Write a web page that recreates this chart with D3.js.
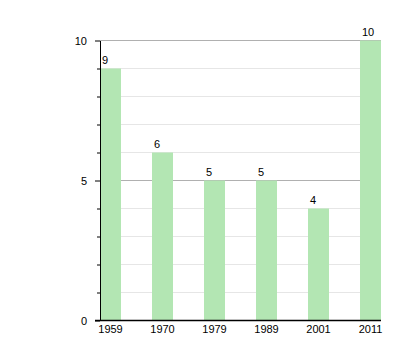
<!DOCTYPE html>
<html>
<head>
<meta charset="utf-8">
<script src="https://cdn.jsdelivr.net/npm/d3@7"></script>
<style>
body{margin:0;background:#fff;}
text{font-family:"Liberation Sans",Arial,sans-serif;font-size:11px;fill:#000;}
</style>
</head>
<body>
<svg id="c" width="420" height="360"></svg>
<script>
const years = ["1959","1970","1979","1989","2001","2011"];
const values = [9,6,5,5,4,10];
const majorTicks = [0,5,10];
const minorTicks = [1,2,3,4,6,7,8,9];

const svg = d3.select("#c");
const x = d3.scaleBand().domain(years).range([100,381]).paddingInner(31/52).paddingOuter(0);
const y = d3.scaleLinear().domain([0,10]).range([320.5,40.5]);

// minor gridlines
svg.append("g").selectAll("line").data(minorTicks).join("line")
  .attr("x1",100).attr("x2",381).attr("y1",d=>y(d)).attr("y2",d=>y(d))
  .attr("stroke","#e6e6e6").attr("stroke-width",1);
// major gridlines
svg.append("g").selectAll("line").data(majorTicks.filter(d=>d>0)).join("line")
  .attr("x1",100).attr("x2",381).attr("y1",d=>y(d)).attr("y2",d=>y(d))
  .attr("stroke","#b0b0b0").attr("stroke-width",1);

// bars
svg.append("g").selectAll("rect").data(values).join("rect")
  .attr("x",(d,i)=>x(years[i])).attr("width",x.bandwidth())
  .attr("y",d=>y(d)).attr("height",d=>y(0)-y(d))
  .attr("fill","#b3e6b3");

// value labels
svg.append("g").selectAll("text").data(values).join("text")
  .attr("x",(d,i)=>x(years[i])+2).attr("y",d=>y(d)-5)
  .attr("text-anchor","start").text(d=>d);

// y axis minor ticks
svg.append("g").attr("transform","translate(100,0)")
  .call(d3.axisLeft(y).tickValues(minorTicks).tickSize(3).tickFormat(""))
  .call(g=>g.select(".domain").remove())
  .call(g=>g.selectAll("line").attr("stroke","#000"));
// y axis major
svg.append("g").attr("transform","translate(100,0)")
  .call(d3.axisLeft(y).tickValues(majorTicks).tickSize(5).tickPadding(8).tickSizeOuter(0))
  .call(g=>g.select(".domain").attr("stroke","#000"))
  .call(g=>g.selectAll("text").attr("font-size",11).attr("font-family","Liberation Sans, Arial, sans-serif"));

// x axis
svg.append("g").attr("transform","translate(0,320.5)")
  .call(d3.axisBottom(x).tickSize(0).tickPadding(5).tickSizeOuter(0))
  .call(g=>g.select(".domain").attr("stroke","#000").attr("stroke-width",1.5).attr("d","M95,0H381"))
  .call(g=>g.selectAll("text").attr("font-size",11).attr("font-family","Liberation Sans, Arial, sans-serif"));
</script>
</body>
</html>
